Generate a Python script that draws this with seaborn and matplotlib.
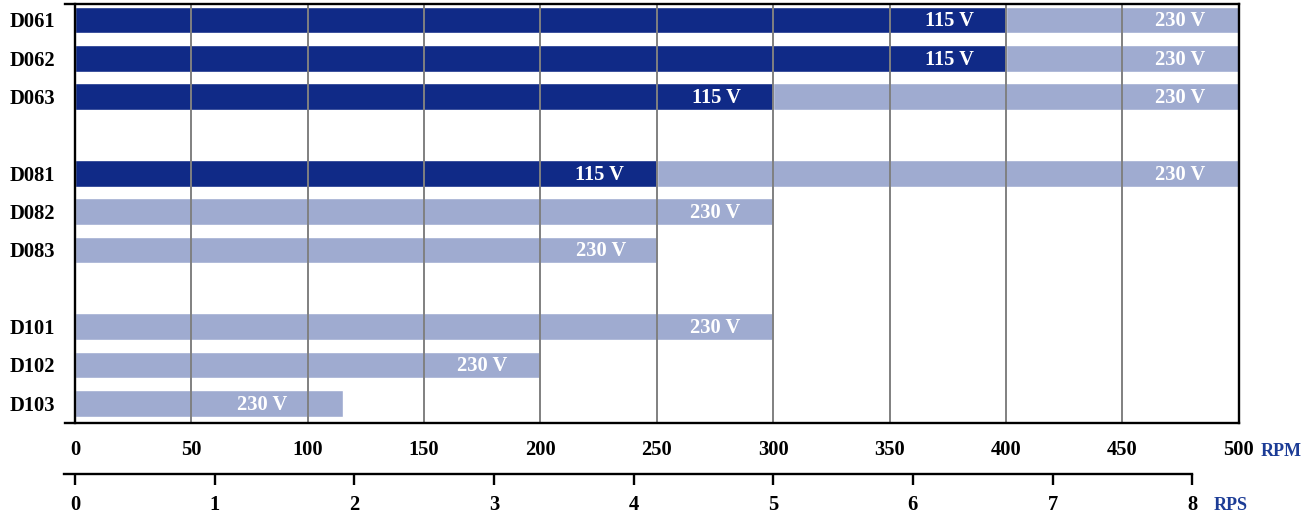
import numpy as np
import pandas as pd
import matplotlib
matplotlib.use("Agg")
import matplotlib.pyplot as plt
import seaborn as sns

# Motor models, grouped by frame size
models = ["D061", "D062", "D063", "D081", "D082", "D083", "D101", "D102", "D103"]
# Maximum speed (RPM) at 115 V (nan where the model has no 115 V rating)
rpm_115 = [400, 400, 300, 250, np.nan, np.nan, np.nan, np.nan, np.nan]
# Maximum speed (RPM) at 230 V
rpm_230 = [500, 500, 500, 500, 300, 250, 300, 200, 115]
# Row order, with spacer rows between the frame-size groups
row_order = ["D061", "D062", "D063", "", "D081", "D082", "D083", " ", "D101", "D102", "D103"]
# Axis ticks
rpm_ticks = [0, 50, 100, 150, 200, 250, 300, 350, 400, 450, 500]
rps_ticks = [0, 1, 2, 3, 4, 5, 6, 7, 8]
RPM_MAX = 500

df = pd.DataFrame({"model": models, "rpm_115": rpm_115, "rpm_230": rpm_230})

DARK = "#102a87"
LIGHT = "#9fabd0"
GRID = "#808080"
ACCENT = "#1c3c96"
FS = 14.8

sns.set_style("white")
plt.rcParams["font.family"] = ["Liberation Serif", "DejaVu Serif"]
plt.rcParams["font.weight"] = "bold"

W_PX, H_PX = 1313, 514
fig = plt.figure(figsize=(W_PX / 100, H_PX / 100), dpi=100)

x0, x1 = 75, 1238.7
y_top, y_bot = 4, 422.7
ax = fig.add_axes([x0 / W_PX, (H_PX - y_bot) / H_PX, (x1 - x0) / W_PX, (y_bot - y_top) / H_PX])

# 230 V range drawn full length, 115 V range overlaid on top
sns.barplot(data=df, y="model", x="rpm_230", order=row_order, orient="h",
            color=LIGHT, saturation=1, width=0.7, errorbar=None, ax=ax)
sns.barplot(data=df.dropna(subset=["rpm_115"]), y="model", x="rpm_115", order=row_order,
            orient="h", color=DARK, saturation=1, width=0.7, errorbar=None, ax=ax)

ax.set_xlim(0, RPM_MAX)
ax.set_ylim(10.506, -0.417)
ax.set_xlabel("")
ax.set_ylabel("")

# Vertical grid over the bars
ax.set_axisbelow(False)
ax.xaxis.grid(True, color=GRID, linewidth=1.4)
ax.yaxis.grid(False)
ax.set_xticks(rpm_ticks)
ax.set_xticklabels([str(t) for t in rpm_ticks])
ax.tick_params(axis="x", direction="out", length=5.5, width=1.4, color=GRID,
               pad=7, labelsize=FS, labelcolor="black")
ax.tick_params(axis="y", length=0, pad=14.5, labelsize=FS, labelcolor="black")
for lab in ax.get_xticklabels() + ax.get_yticklabels():
    lab.set_fontweight("bold")
xt = ax.xaxis.get_major_ticks()
for t in (xt[0], xt[-1]):
    t.tick1line.set_color("black")
    t.tick1line.set_markeredgewidth(1.8)

for name, sp in ax.spines.items():
    sp.set_visible(True)
    sp.set_color("black")
    sp.set_linewidth(1.7)
    sp.set_zorder(5)
ext = 10 / ((x1 - x0) / RPM_MAX)
ax.spines["top"].set_bounds(-ext, RPM_MAX)
ax.spines["bottom"].set_bounds(-ext, RPM_MAX)

# Voltage labels near the end of each range
label_offsets_230 = [42, 42, 42, 42, 42, 40, 42, 42, 58]
for i, m in enumerate(models):
    row = row_order.index(m)
    ax.annotate("230 V", xy=(rpm_230[i], row), xytext=(-label_offsets_230[i], -1),
                textcoords="offset points", ha="center", va="center",
                color="white", fontsize=FS, fontweight="bold", zorder=6)
    if not np.isnan(rpm_115[i]):
        ax.annotate("115 V", xy=(rpm_115[i], row), xytext=(-41, -1),
                    textcoords="offset points", ha="center", va="center",
                    color="white", fontsize=FS, fontweight="bold", zorder=6)

# Secondary scale in revolutions per second
y_rps = 474.3
ax2 = fig.add_axes([x0 / W_PX, (H_PX - y_rps) / H_PX, (x1 - x0) / W_PX, 20 / H_PX])
ax2.set_xlim(0, RPM_MAX / 60)
ax2.set_ylim(0, 1)
ax2.set_yticks([])
ax2.patch.set_visible(False)
for name in ("top", "left", "right"):
    ax2.spines[name].set_visible(False)
ax2.spines["bottom"].set_color("black")
ax2.spines["bottom"].set_linewidth(1.7)
ax2.spines["bottom"].set_bounds(-11 / ((x1 - x0) / (RPM_MAX / 60)), rps_ticks[-1])
ax2.set_xticks(rps_ticks)
ax2.set_xticklabels([str(t) for t in rps_ticks])
ax2.tick_params(axis="x", bottom=True, direction="out", length=7.7, width=1.7,
                color="black", pad=7.2, labelsize=FS, labelcolor="black")
for lab in ax2.get_xticklabels():
    lab.set_fontweight("bold")

# Unit captions
fig.text(1260.7 / W_PX, (H_PX - 456) / H_PX, "RPM", color=ACCENT, fontsize=13,
         fontweight="bold", ha="left", va="baseline")
fig.text(1213.3 / W_PX, (H_PX - 509.5) / H_PX, "RPS", color=ACCENT, fontsize=13,
         fontweight="bold", ha="left", va="baseline")

fig.savefig("out.png", dpi=100)
